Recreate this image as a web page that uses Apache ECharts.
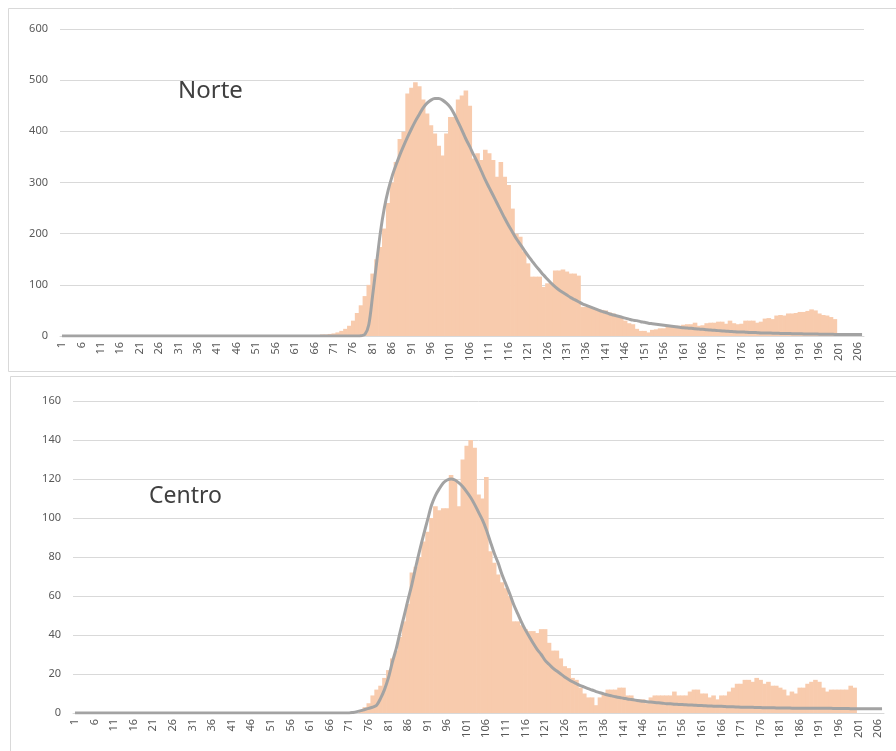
<!DOCTYPE html>
<html>
<head>
<meta charset="utf-8">
<script src="https://cdn.jsdelivr.net/npm/echarts@6/dist/echarts.min.js"></script>
<style>
html,body{margin:0;padding:0;background:#fff;}
#chart{width:896px;height:751px;}
</style>
</head>
<body>
<div id="chart"></div>
<script>
// Categories 1..207
const categories = Array.from({length: 207}, (_, i) => String(i + 1));

// Norte histogram values
const norteBars = [
  0,0,0,0,0,0,0,0,0,0,
  0,0,0,0,0,0,0,0,0,0,
  0,0,0,0,0,0,0,0,0,0,
  0,0,0,0,0,0,0,0,0,0,
  0,0,0,0,0,0,0,0,0,0,
  0,0,0,0,0,0,0,0,0,0,
  0,0,1,1,2,2,2,3,3,4,
  5,7,10,14,20,30,45,60,78,100,
  122,150,174,210,260,300,340,385,399,474,
  485,496,488,462,435,412,396,372,353,396,
  428,428,462,470,480,450,347,357,344,364,
  357,344,311,340,311,295,249,200,194,165,
  142,116,116,116,96,103,103,128,128,130,
  126,122,122,118,57,57,55,54,52,51,
  50,46,44,40,38,30,25,23,14,10,
  10,7,12,13,15,15,18,20,20,20,
  22,23,23,26,20,21,25,26,26,28,
  28,24,30,25,23,24,30,30,30,26,
  28,34,35,33,40,41,40,44,44,45,
  47,47,49,52,50,44,41,40,37,33,
  0,0,0,0,0,0,0
];

// Norte fitted curve
const norteCurve = [
  0,0,0,0,0,0,0,0,0,0,
  0,0,0,0,0,0,0,0,0,0,
  0,0,0,0,0,0,0,0,0,0,
  0,0,0,0,0,0,0,0,0,0,
  0,0,0,0,0,0,0,0,0,0,
  0,0,0,0,0,0,0,0,0,0,
  0,0,0,0,0,0,0,0,0,0,
  0,0,0,0,0,0,0,0.5,3,22,
  80,142,203,250,285,312,334,354,372,389,
  405,420,433,446,455,461,464,464,461,455,
  447,434,418,402,385,370,354,339,322,305,
  290,275,260,245,230,216,203,190,179,168,
  157,147,137,128,119,111,103,96,90,85,
  80,75,71,67,63,60,57,54,51,48,
  46,43,41,39,37,35,33,31,30,28,
  27,25,24,23,22,21,20,19,18,17,
  16,15.5,15,14,13.5,13,12,11.5,11,10.5,
  10,9.5,9,8.5,8,8,7.5,7,7,6.5,
  6,6,6,5.5,5.5,5,5,5,4.5,4.5,
  4.5,4,4,4,4,3.5,3.5,3.5,3.5,3,
  3,3,3,3,3,3,3
];

// Centro histogram values
const centroBars = [
  0,0,0,0,0,0,0,0,0,0,
  0,0,0,0,0,0,0,0,0,0,
  0,0,0,0,0,0,0,0,0,0,
  0,0,0,0,0,0,0,0,0,0,
  0,0,0,0,0,0,0,0,0,0,
  0,0,0,0,0,0,0,0,0,0,
  0,0,0,0,0,0,0,0,0,0,
  0,0,0,1,3,5,9,12,14,18,
  22,28,32,39,47,56,72,75,80,88,
  93,100,106,104,105,105,122,120,106,130,
  137,140,136,112,110,121,83,77,71,67,
  64,60,47,47,45,43,42,42,41,43,
  43,36,32,32,28,24,23,18,17,13,
  10,8,8,4,8,10,12,12,12,13,
  13,9,9,7,7,7,5,8,9,9,
  9,9,9,11,9,9,9,11,12,12,
  10,10,8,9,7,9,9,11,13,15,
  15,17,17,16,18,17,15,16,14,14,
  13,12,9,11,10,13,13,15,16,17,
  16,13,11,12,12,12,12,12,14,13,
  0,0,0,0,0,0,0
];

// Centro fitted curve
const centroCurve = [
  0,0,0,0,0,0,0,0,0,0,
  0,0,0,0,0,0,0,0,0,0,
  0,0,0,0,0,0,0,0,0,0,
  0,0,0,0,0,0,0,0,0,0,
  0,0,0,0,0,0,0,0,0,0,
  0,0,0,0,0,0,0,0,0,0,
  0,0,0,0,0,0,0,0,0,0,
  0,0.3,0.7,1.2,1.8,2.4,3,4,7.5,12,
  18,26,33,41.6,49.7,58,66,75,83.5,91.5,
  99,106.5,111.5,115,118,119.5,120,119.5,118,116,
  113.4,110.5,107,103,99,94,88,82,77,71,
  66,61,55.5,51,46.5,42.5,39,35.6,32.5,30,
  27,25,23,21.5,20,18.5,17.2,16,15,14,
  13.3,12.5,11.8,11,10.4,9.8,9.2,8.8,8.3,7.9,
  7.6,7.2,6.9,6.6,6.3,6,5.8,5.6,5.4,5.2,
  5,4.8,4.7,4.5,4.4,4.3,4.2,4.1,4,3.9,
  3.8,3.7,3.6,3.5,3.4,3.4,3.3,3.2,3.2,3.1,
  3,3,2.9,2.9,2.8,2.8,2.7,2.7,2.7,2.6,
  2.6,2.6,2.6,2.5,2.5,2.5,2.5,2.5,2.5,2.5,
  2.4,2.4,2.4,2.4,2.3,2.3,2.3,2.3,2.2,2.2,
  2.2,2.2,2.2,2.2,2.2,2.2,2.2
];

const FONT = 'Noto Sans, Liberation Sans, sans-serif';
const BAR_COLOR = '#F8CBAD';
const LINE_COLOR = '#A3A3A3';
const LABEL_COLOR = '#595959';
const GRID_COLOR = '#D9D9D9';

function xAxisCfg(gi) {
  return {
    type: 'category', gridIndex: gi, data: categories, boundaryGap: true,
    axisTick: {show: false},
    axisLine: {lineStyle: {color: GRID_COLOR}},
    axisLabel: {interval: 4, rotate: 90, color: LABEL_COLOR, fontSize: 11, fontFamily: FONT, margin: 6}
  };
}
function yAxisCfg(gi, max, interval) {
  return {
    type: 'value', gridIndex: gi, min: 0, max: max, interval: interval,
    axisLine: {show: false}, axisTick: {show: false},
    splitLine: {lineStyle: {color: GRID_COLOR, width: 1}},
    axisLabel: {color: LABEL_COLOR, fontSize: 11, fontFamily: FONT, margin: 12}
  };
}
const barStyle = {color: BAR_COLOR};

const chart = echarts.init(document.getElementById('chart'), null, {renderer: 'canvas'});
chart.setOption({
  animation: false,
  backgroundColor: '#ffffff',
  graphic: [
    {type: 'rect', shape: {x: 8.5, y: 8.5, width: 900, height: 363}, style: {fill: 'none', stroke: GRID_COLOR, lineWidth: 1}, z: -10},
    {type: 'rect', shape: {x: 10.5, y: 376.5, width: 900, height: 400}, style: {fill: 'none', stroke: GRID_COLOR, lineWidth: 1}, z: -10}
  ],
  title: [
    {text: 'Norte', left: 173, top: 74, textStyle: {fontSize: 24, fontWeight: 'normal', color: '#404040', fontFamily: FONT}},
    {text: 'Centro', left: 144, top: 480, textStyle: {fontSize: 23, fontWeight: 'normal', color: '#404040', fontFamily: FONT}}
  ],
  grid: [
    {left: 60, right: 32, top: 29, height: 307},
    {left: 73, right: 12, top: 401, height: 312}
  ],
  xAxis: [xAxisCfg(0), xAxisCfg(1)],
  yAxis: [yAxisCfg(0, 600, 100), yAxisCfg(1, 160, 20)],
  series: [
    {type: 'bar', xAxisIndex: 0, yAxisIndex: 0, data: norteBars, barWidth: 4.6, itemStyle: barStyle},
    {type: 'line', xAxisIndex: 0, yAxisIndex: 0, data: norteCurve, showSymbol: false, smooth: 0.3, lineStyle: {color: LINE_COLOR, width: 3}},
    {type: 'bar', xAxisIndex: 1, yAxisIndex: 1, data: centroBars, barWidth: 4.6, itemStyle: barStyle},
    {type: 'line', xAxisIndex: 1, yAxisIndex: 1, data: centroCurve, showSymbol: false, smooth: 0.3, lineStyle: {color: LINE_COLOR, width: 3}}
  ]
});
</script>
</body>
</html>
